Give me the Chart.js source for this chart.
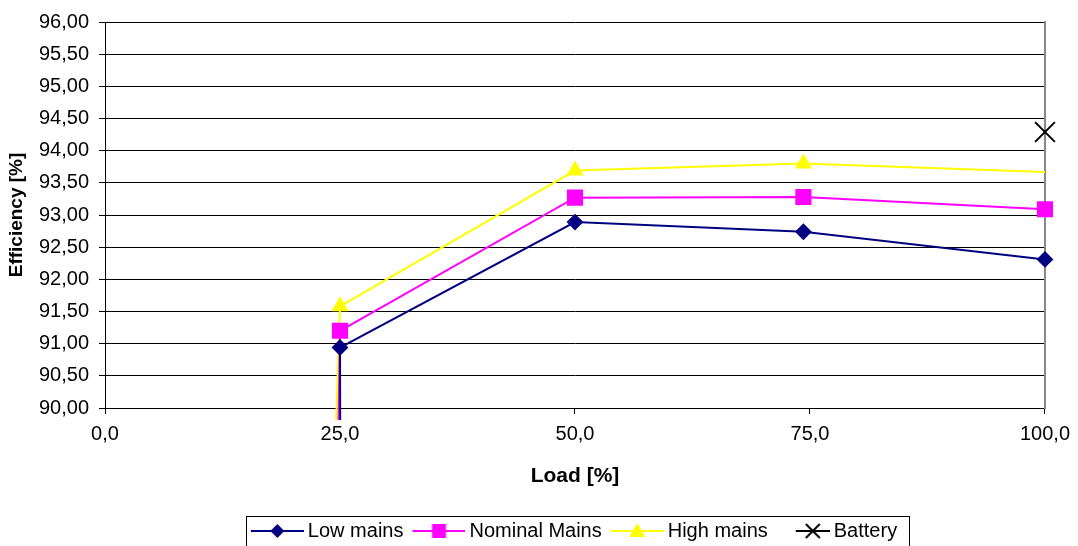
<!DOCTYPE html>
<html>
<head>
<meta charset="utf-8">
<script src="https://cdn.jsdelivr.net/npm/chart.js@4.4.1/dist/chart.umd.min.js"></script>
<style>
  html, body { margin: 0; padding: 0; background: #fff; }
  #wrap { width: 1078px; height: 546px; }
</style>
</head>
<body>
<div id="wrap"><canvas id="eff"></canvas></div>
<script>
// load [%] and efficiency [%] per mains condition (first point lies far below the axis)
var loadLow  = [25.1, 25.0, 50.0, 74.3, 100.0];
var effLow   = [85.0, 90.94, 92.89, 92.74, 92.31];
var loadNom  = [24.3, 25.0, 50.0, 74.3, 100.0];
var effNom   = [85.0, 91.20, 93.27, 93.28, 93.09];
var loadHigh = [23.5, 25.0, 50.0, 74.3, 100.0];
var effHigh  = [85.0, 91.58, 93.69, 93.80, 93.67];
var loadBat  = [100.0];
var effBat   = [94.29];
var seriesNames = ['Low mains', 'Nominal Mains', 'High mains', 'Battery'];

var FONT = "Arial, 'Liberation Sans', sans-serif";
var BOXW = 53;

function pts(xs, ys) {
  return xs.map(function (x, i) { return { x: x, y: ys[i] } })
}
function comma(v, d) {
  return Number(v).toFixed(d).replace('.', ',')
}

// legend icons: short line with the marker on it, shifted 6px right of the box
function legendIcon(color, style, len) {
  var c = document.createElement('canvas')
  c.width = BOXW + 12; c.height = 20
  var g = c.getContext('2d')
  var x1 = BOXW + 12, x0 = x1 - len, cx = (x0 + x1) / 2, cy = 10
  g.strokeStyle = color; g.fillStyle = color; g.lineWidth = 2
  g.beginPath(); g.moveTo(x0, cy); g.lineTo(x1, cy); g.stroke()
  g.beginPath()
  if (style === 'diamond') {
    g.moveTo(cx, cy - 7); g.lineTo(cx + 7, cy); g.lineTo(cx, cy + 7); g.lineTo(cx - 7, cy); g.closePath(); g.fill()
  } else if (style === 'square') {
    g.fillRect(cx - 7, cy - 7, 14, 14)
  } else if (style === 'triangle') {
    g.moveTo(cx, cy - 8); g.lineTo(cx + 8, cy + 6); g.lineTo(cx - 8, cy + 6); g.closePath(); g.fill()
  } else {
    g.moveTo(cx - 7, cy - 7); g.lineTo(cx + 7, cy + 7); g.moveTo(cx + 7, cy - 7); g.lineTo(cx - 7, cy + 7); g.stroke()
  }
  return c
}
var icons = [
  legendIcon('#000080', 'diamond', BOXW),
  legendIcon('#FF00FF', 'square', BOXW),
  legendIcon('#FFFF00', 'triangle', BOXW),
  legendIcon('#000000', 'cross', 34)
]

var legendBox = {
  id: 'legendBox',
  afterLayout: function (chart) {
    var l = chart.legend
    l.left += 47
    l.right += 47
    l.top += 5
    l.bottom += 5
  },
  afterDraw: function (chart) {
    var l = chart.legend
    if (!l || !l.legendHitBoxes.length) return
    var hb = l.legendHitBoxes
    var last = hb[hb.length - 1]
    var x0 = hb[0].left + 1
    var x1 = last.left + last.width + 12
    var ctx = chart.ctx
    ctx.save()
    ctx.strokeStyle = '#000'
    ctx.lineWidth = 1
    ctx.strokeRect(Math.round(x0) + 0.5, Math.round(l.top) - 2 + 0.5, Math.round(x1 - x0), 40)
    ctx.restore()
  }
}

var clipLines = { left: 10, top: 10, right: 12, bottom: 12 }

var effData = {
  datasets: [
    {
      label: seriesNames[0], data: pts(loadLow, effLow),
      borderColor: '#000080', backgroundColor: '#000080', borderWidth: 2,
      pointStyle: 'rectRot', pointRadius: 7, pointHoverRadius: 7, clip: clipLines
    },
    {
      label: seriesNames[1], data: pts(loadNom, effNom),
      borderColor: '#FF00FF', backgroundColor: '#FF00FF', borderWidth: 2,
      pointStyle: 'rect', pointRadius: 10, pointHoverRadius: 10, clip: clipLines
    },
    {
      label: seriesNames[2], data: pts(loadHigh, effHigh),
      borderColor: '#FFFF00', backgroundColor: '#FFFF00', borderWidth: 2,
      pointStyle: 'triangle', pointRadius: [8, 8, 8, 8, 0], clip: clipLines
    },
    {
      label: seriesNames[3], data: pts(loadBat, effBat),
      borderColor: '#000000', backgroundColor: '#000000', borderWidth: 2,
      pointStyle: 'crossRot', pointRadius: 14, pointBorderWidth: 2, showLine: false, clip: false
    }
  ]
}

var effChart = new Chart(document.getElementById('eff').getContext('2d'), {
  type: 'scatter',
  data: effData,
  options: {
    responsive: true,
    maintainAspectRatio: false,
    animation: false,
    showLine: true,
    layout: { autoPadding: false, padding: { top: 18, right: 30, left: 0, bottom: 0 } },
    plugins: {
      tooltip: { enabled: false },
      legend: {
        position: 'bottom',
        labels: {
          usePointStyle: true,
          pointStyleWidth: BOXW,
          padding: 3,
          color: '#000',
          font: { family: FONT, size: 20 },
          generateLabels: function (chart) {
            return Chart.defaults.plugins.legend.labels.generateLabels(chart).map(function (l) {
              l.pointStyle = icons[l.datasetIndex]
              return l
            })
          }
        }
      }
    },
    scales: {
      x: {
        type: 'linear', min: 0, max: 100,
        afterFit: function (s) { s.height = 105 },
        border: { color: '#000', width: 1 },
        grid: { drawOnChartArea: false, drawTicks: true, tickLength: 6, color: '#000' },
        ticks: {
          stepSize: 25, color: '#000', padding: 8,
          font: { family: FONT, size: 20 },
          callback: function (v) { return comma(v, 1) }
        },
        title: {
          display: true, text: 'Load [%]', color: '#000',
          font: { family: FONT, size: 21, weight: 'bold' },
          padding: { top: 0, bottom: 24 }
        }
      },
      y: {
        type: 'linear', min: 90, max: 96,
        afterFit: function (s) { s.width = 105 },
        border: { color: '#000', width: 1 },
        grid: { color: '#000', tickLength: 6, lineWidth: 1 },
        ticks: {
          stepSize: 0.5, color: '#000', padding: 10,
          font: { family: FONT, size: 20 },
          callback: function (v) { return comma(v, 2) }
        },
        title: {
          display: true, text: 'Efficiency [%]', color: '#000',
          font: { family: FONT, size: 19, weight: 'bold' },
          padding: { top: 5, bottom: 0 }
        }
      },
      yRight: {
        type: 'linear', position: 'right', min: 90, max: 96,
        border: { color: '#888', width: 2 },
        grid: { drawOnChartArea: false, drawTicks: false },
        ticks: { display: false },
        afterFit: function (s) { s.width = 0 }
      }
    }
  },
  plugins: [legendBox]
})
</script>
</body>
</html>
